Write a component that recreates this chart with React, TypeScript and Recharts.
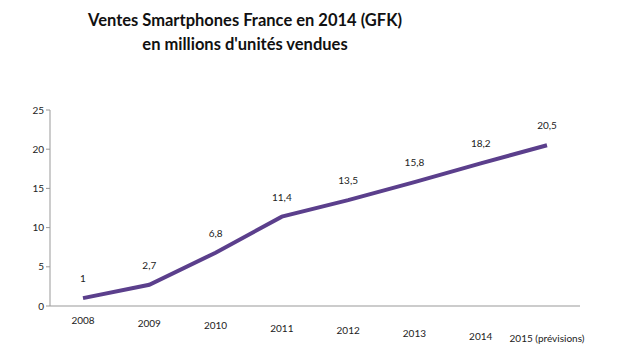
import { LineChart, Line, XAxis, YAxis, LabelList } from "recharts"

const years = ["2008", "2009", "2010", "2011", "2012", "2013", "2014", "2015 (prévisions)"]
const ventes = [1, 2.7, 6.8, 11.4, 13.5, 15.8, 18.2, 20.5]
const yTicks = [0, 5, 10, 15, 20, 25]

const data = years.map((annee, i) => ({ annee, ventes: ventes[i] }))

const font = "Lato, 'Open Sans', sans-serif"

// slight downward drift of the labels, like the tilted 3D floor of the original
function YearTick(props: any) {
  const { x, y, payload, index } = props
  return (
    <text x={x} y={y} dy={10 + index * 2.6} textAnchor="middle" fontSize={10} fill="#222" fontFamily={font}>
      {payload.value}
    </text>
  )
}

export default function App() {
  return (
    <div style={{ position: "absolute", left: 0, top: 0, width: 620, height: 350, background: "#fff" }}>
      <div
        style={{
          position: "absolute",
          left: 0,
          top: 8,
          width: 490,
          textAlign: "center",
          fontFamily: font,
          fontWeight: "bold",
          fontSize: 16.5,
          lineHeight: "24px",
          color: "#111",
        }}
      >
        Ventes Smartphones France en 2014 (GFK)
        <br />
        en millions d'unités vendues
      </div>
      <LineChart width={620} height={350} data={data} margin={{ top: 110, right: 40, bottom: 14, left: 5 }}>
        <XAxis
          dataKey="annee"
          axisLine={{ stroke: "#999" }}
          tickLine={false}
          tick={<YearTick />}
          interval={0}
          height={30}
          padding={{ left: 33, right: 33 }}
        />
        <YAxis
          domain={[0, 25]}
          ticks={yTicks}
          width={45}
          axisLine={{ stroke: "#999" }}
          tickLine={{ stroke: "#999" }}
          tickSize={4}
          tick={{ fontSize: 10, fill: "#222", fontFamily: font }}
        />
        <Line
          type="linear"
          dataKey="ventes"
          stroke="#5b3f8c"
          strokeWidth={4}
          dot={false}
          isAnimationActive={false}
        >
          <LabelList
            dataKey="ventes"
            position="top"
            offset={16}
            fontSize={10}
            fill="#222"
            fontFamily={font}
            formatter={(v: any) => String(v).replace(".", ",")}
          />
        </Line>
      </LineChart>
    </div>
  )
}
